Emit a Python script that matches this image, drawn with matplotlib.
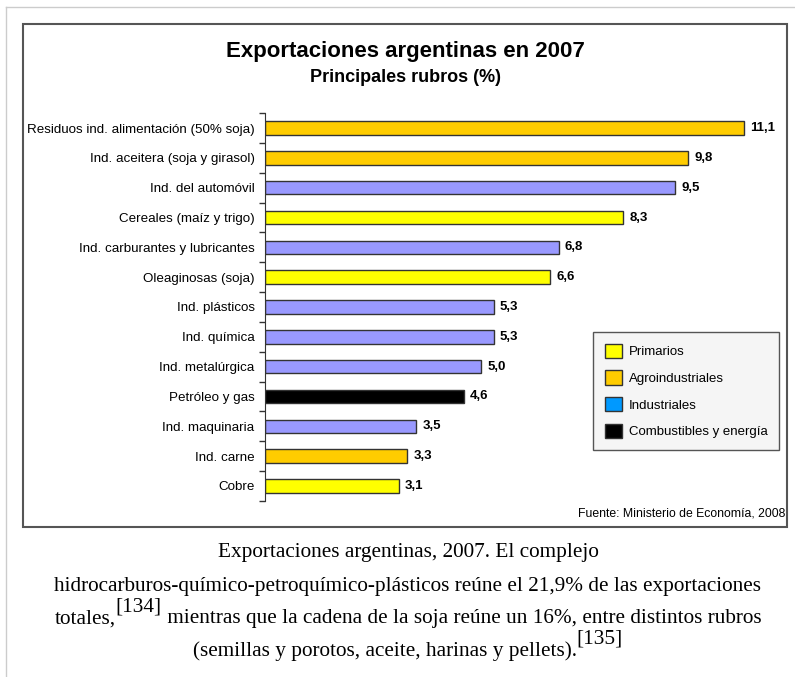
import matplotlib.pyplot as plt
from matplotlib.patches import Patch, Rectangle
from matplotlib.lines import Line2D

plt.rcParams['font.family'] = ['Liberation Sans', 'DejaVu Sans']

# Rubros de exportación 2007 (% del total)
rubros = ['Residuos ind. alimentación (50% soja)', 'Ind. aceitera (soja y girasol)',
          'Ind. del automóvil', 'Cereales (maíz y trigo)', 'Ind. carburantes y lubricantes',
          'Oleaginosas (soja)', 'Ind. plásticos', 'Ind. química', 'Ind. metalúrgica',
          'Petróleo y gas', 'Ind. maquinaria', 'Ind. carne', 'Cobre']
valores = [11.1, 9.8, 9.5, 8.3, 6.8, 6.6, 5.3, 5.3, 5.0, 4.6, 3.5, 3.3, 3.1]
tipos = ['agro', 'agro', 'ind', 'prim', 'ind', 'prim', 'ind', 'ind', 'ind',
         'comb', 'ind', 'agro', 'prim']

colores_barra = {'prim': '#ffff00', 'agro': '#ffcc00', 'ind': '#9999ff', 'comb': '#000000'}
leyenda_etiquetas = ['Primarios', 'Agroindustriales', 'Industriales', 'Combustibles y energía']
leyenda_colores = ['#ffff00', '#ffcc00', '#0099ff', '#000000']

W, H = 795, 677
fig = plt.figure(figsize=(W / 100, H / 100), dpi=100)


def fx(px):
    return px / W


def fy(py):
    return 1 - py / H


# marco de la página y recuadro del gráfico
fig.add_artist(Line2D([fx(6), fx(6)], [fy(7), 0], color='#cccccc', lw=1))
fig.add_artist(Line2D([fx(6), 1], [fy(7), fy(7)], color='#cccccc', lw=1))
fig.add_artist(Rectangle((fx(23), fy(527)), fx(787) - fx(23), fy(24) - fy(527),
                         transform=fig.transFigure, fill=False, ec='#555555', lw=1.5))

fig.text(fx(405), fy(52), 'Exportaciones argentinas en 2007', ha='center', va='center',
         fontsize=16, fontweight='bold')
fig.text(fx(406), fy(78), 'Principales rubros (%)', ha='center', va='center',
         fontsize=13, fontweight='bold')

# eje de barras
top, bottom = 113.1, 500.9
ax = fig.add_axes([fx(265), fy(bottom), fx(783) - fx(265), (bottom - top) / H])
ax.patch.set_alpha(0)
ys = list(range(len(rubros)))
ax.barh(ys, valores, height=0.45, color=[colores_barra[t] for t in tipos],
        edgecolor='#333333', linewidth=1)
for y, v in zip(ys, valores):
    ax.annotate(f'{v:.1f}'.replace('.', ','), (v, y), xytext=(4.5, 0),
                textcoords='offset points', va='center', ha='left',
                fontsize=9.5, fontweight='bold')
ax.set_xlim(0, 12)
ax.set_ylim(len(rubros) - 0.5, -0.5)
ax.set_yticks(ys)
ax.set_yticklabels(rubros, fontsize=9.6)
ax.set_yticks([y - 0.5 for y in range(len(rubros) + 1)], minor=True)
ax.tick_params(axis='y', which='major', length=0, pad=7.5)
ax.tick_params(axis='y', which='minor', length=4, width=1, color='#333333')
ax.set_xticks([])
for s in ['top', 'right', 'bottom']:
    ax.spines[s].set_visible(False)
ax.spines['left'].set_color('#333333')

handles = [Patch(facecolor=c, edgecolor='#333333', lw=1) for c in leyenda_colores]
leg = fig.legend(handles, leyenda_etiquetas, loc='upper left',
                 bbox_to_anchor=(fx(593), fy(332)), bbox_transform=fig.transFigure,
                 fontsize=9.5, handlelength=1.3, handleheight=1.3, labelspacing=0.92,
                 handletextpad=0.55, borderpad=0.88, borderaxespad=0, fancybox=False,
                 framealpha=1, facecolor='#f5f5f5', edgecolor='#555555')
leg.get_frame().set_linewidth(1)

fig.text(fx(785), fy(514), 'Fuente: Ministerio de Economía, 2008', ha='right', va='center',
         fontsize=8.8)

# pie de figura con llamadas en superíndice
serif = ['Liberation Serif', 'DejaVu Serif']
lineas = [
    [('Exportaciones argentinas, 2007. El complejo', False)],
    [('hidrocarburos-químico-petroquímico-plásticos reúne el 21,9% de las exportaciones', False)],
    [('totales,', False), ('[134]', True),
     (' mientras que la cadena de la soja reúne un 16%, entre distintos rubros', False)],
    [('(semillas y porotos, aceite, harinas y pellets).', False), ('[135]', True)],
]
ys_px = [553, 586, 619, 651]
renderer = fig.canvas.get_renderer()
for partes, ypx in zip(lineas, ys_px):
    textos = []
    for txt, sup in partes:
        t = fig.text(0, fy(ypx - (12 if sup else 0)), txt, fontsize=15.3, family=serif,
                     va='center', ha='left')
        textos.append(t)
    anchos = [t.get_window_extent(renderer).width for t in textos]
    x = (408 - sum(anchos) / 2)
    for t, w in zip(textos, anchos):
        t.set_x(fx(x))
        x += w

fig.savefig('out.png', dpi=100)
